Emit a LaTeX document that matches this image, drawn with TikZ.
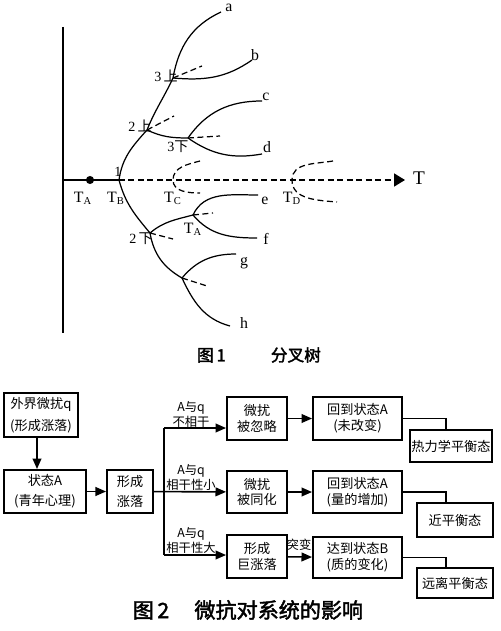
\documentclass[tikz,border=0pt]{standalone}
\usepackage{fontspec}
\setmainfont{Liberation Serif}
\newfontfamily\cjk{Noto Sans CJK SC}
\newfontfamily\cjkbold[FakeBold=2]{Noto Sans CJK SC}
\usetikzlibrary{arrows.meta}

\begin{document}
\begin{tikzpicture}[x=0.02cm,y=0.02cm,
branch/.style={line width=0.7pt},
ghost/.style={line width=0.7pt,dash pattern=on 3.4pt off 2pt},
tag/.style={inner sep=0pt,font=\fontsize{9}{9}\selectfont},
fork/.style={inner sep=0pt,font=\fontsize{8}{8}\selectfont},
box/.style={draw,line width=1.1pt,align=center,inner sep=1pt,font=\cjk\fontsize{7.5}{9}\selectfont},
cond/.style={align=center,inner sep=0pt,font=\cjk\fontsize{7}{8.5}\selectfont},
flow/.style={line width=0.9pt,-{Triangle[length=6pt,width=5pt]}},
link/.style={line width=0.9pt}]
\useasboundingbox (0,0) rectangle (500,-631);

\coordinate (O) at (63,-180);
\coordinate (Tend) at (405,-180);
\coordinate (TB) at (119,-180);
\coordinate (up2) at (147,-130);
\coordinate (up3) at (173,-78);
\coordinate (dn3) at (188,-138);
\coordinate (dn2) at (150,-233);
\coordinate (fA) at (193,-215);
\coordinate (fG) at (182,-278);
\coordinate (ea) at (221,-12);
\coordinate (eb) at (252,-60);
\coordinate (ec) at (262,-101);
\coordinate (ed) at (262,-154);
\coordinate (ee) at (258,-195);
\coordinate (ef) at (257,-238);
\coordinate (eg) at (236,-254);
\coordinate (eh) at (230,-326);
\coordinate (s3) at (202,-66);
\coordinate (s2) at (174,-116);
\coordinate (sd3) at (220,-136);
\coordinate (sd2) at (173,-239);
\coordinate (sA) at (213,-213);
\coordinate (sG) at (207,-286);

\draw[branch] (63,-27) -- (63,-333);
\draw[branch] (O) -- (TB);
\draw[ghost,-{Triangle[length=6.2pt,width=7.4pt]}] (TB) -- (Tend);
\fill (90,-180) circle (2.3pt);

\draw[branch] (TB) to[out=82,in=228] (up2) to[out=68,in=245] (up3) to[out=80,in=205] (ea);
\draw[branch] (up3) to[out=-5,in=215] (eb);
\draw[branch] (up2) to[out=-25,in=180] (dn3);
\draw[branch] (dn3) to[out=55,in=180] (ec);
\draw[branch] (dn3) to[out=-35,in=190] (ed);
\draw[branch] (TB) to[out=-75,in=130] (dn2);
\draw[branch] (dn2) to[out=40,in=195] (fA);
\draw[branch] (fA) to[out=65,in=180] (ee);
\draw[branch] (fA) to[out=-50,in=180] (ef);
\draw[branch] (dn2) to[out=-80,in=150] (fG);
\draw[branch] (fG) to[out=50,in=180] (eg);
\draw[branch] (fG) to[out=-65,in=165] (eh);
\draw[ghost] (up3) -- (s3);
\draw[ghost] (up2) -- (s2);
\draw[ghost] (dn3) -- (sd3);
\draw[ghost] (dn2) -- (sd2);
\draw[ghost] (fA) -- (sA);
\draw[ghost] (fG) -- (sG);
\draw[ghost] (200,-161) to[out=195,in=90] (173,-180) to[out=-90,in=180] (200,-193);
\draw[ghost] (333,-161) to[out=190,in=90] (292,-180) to[out=-90,in=175] (337,-202);

\node[tag] (la) at (229,-8) {a};
\node[tag] (lb) at (255,-55) {b};
\node[tag] (lc) at (266,-97) {c};
\node[tag] (ld) at (267,-147) {d};
\node[tag] (le) at (265,-201) {e};
\node[tag] (lf) at (266,-239) {f};
\node[tag] (lg) at (244,-263) {g};
\node[tag] (lh) at (244,-323) {h};
\node[tag,font=\fontsize{11}{11}\selectfont] (lT) at (419,-178) {T};
\node[tag] (lTA) at (83,-198) {T\textsubscript{A}};
\node[tag] (lTB) at (116,-198) {T\textsubscript{B}};
\node[tag] (lTC) at (173,-198) {T\textsubscript{C}};
\node[tag] (lTD) at (292,-198) {T\textsubscript{D}};
\node[tag] (lTA2) at (193,-229) {T\textsubscript{A}};
\node[fork] (l1) at (118,-172) {1};
\node[fork] (lu3) at (166,-76) {3\,{\cjk 上}};
\node[fork] (lu2) at (140,-126) {2\,{\cjk 上}};
\node[fork] (ld3) at (178,-147) {3{\cjk 下}};
\node[fork] (ld2) at (141,-239) {2\,{\cjk 下}};
\node[font=\cjkbold\fontsize{9.5}{9.5}\selectfont] (cap1) at (259,-355) {图\,1\hspace{2.7em}分叉树};

\node[box,minimum width=1.48cm,minimum height=0.88cm] (ext) at (41,-415) {外界微扰q\\[3.5pt](形成涨落)};
\node[box,minimum width=1.64cm,minimum height=0.86cm] (stA) at (45,-491.5) {状态A\\[2.5pt](青年心理)};
\node[box,minimum width=0.92cm,minimum height=0.86cm] (flu) at (130,-491.5) {形成\\[2.5pt]涨落};
\node[box,minimum width=1.2cm,minimum height=0.86cm] (ign) at (257,-418.5) {微扰\\被忽略};
\node[box,minimum width=1.2cm,minimum height=0.84cm] (asm) at (257,-492) {微扰\\被同化};
\node[box,minimum width=1.2cm,minimum height=0.86cm] (big) at (257,-556.5) {形成\\巨涨落};
\node[box,minimum width=1.78cm,minimum height=0.86cm] (bk1) at (357.5,-418.5) {回到状态A\\(未改变)};
\node[box,minimum width=1.78cm,minimum height=0.84cm] (bk2) at (357.5,-492) {回到状态A\\(量的增加)};
\node[box,minimum width=1.78cm,minimum height=0.82cm] (rB) at (357.5,-557.5) {达到状态B\\(质的变化)};
\node[box,minimum width=1.44cm,minimum height=0.64cm] (eq1) at (451,-446) {热力学平衡态};
\node[box,minimum width=1.52cm,minimum height=0.68cm] (eq2) at (455,-520) {近平衡态};
\node[box,minimum width=1.52cm,minimum height=0.6cm] (eq3) at (455,-583) {远离平衡态};

\coordinate (jt) at (164,-428);
\coordinate (jb) at (164,-555);
\draw[flow] ([xshift=-0.08cm]ext.south) -- ([xshift=-0.08cm]ext.south |- stA.north);
\draw[flow] (stA) -- (flu);
\draw[flow] (flu) -- (asm);
\draw[link] (jt) -- (jb);
\draw[flow] (jt) -- (jt -| ign.west);
\draw[flow] (jb) -- (jb -| big.west);
\draw[flow] (ign) -- (bk1);
\draw[flow] (asm) -- (bk2);
\draw[flow] (big) -- (rB);
\draw[link] (bk1.east) -| ([xshift=-0.1cm]eq1.north);
\draw[link] (bk2.east) -| ([xshift=-0.18cm]eq2.north);
\draw[link] (rB.east) -| ([xshift=-0.18cm]eq3.north);

\node[cond] (c1) at (191,-414) {A与q\\不相干};
\node[cond] (c2) at (191,-477) {A与q\\相干性小};
\node[cond] (c3) at (191,-540) {A与q\\相干性大};
\node[cond] (c4) at (299,-545) {突变};
\node[font=\cjkbold\fontsize{12}{12}\selectfont] (cap2) at (248,-610) {图\,2\hspace{1.2em}微抗对系统的影响};
\end{tikzpicture}
\end{document}
